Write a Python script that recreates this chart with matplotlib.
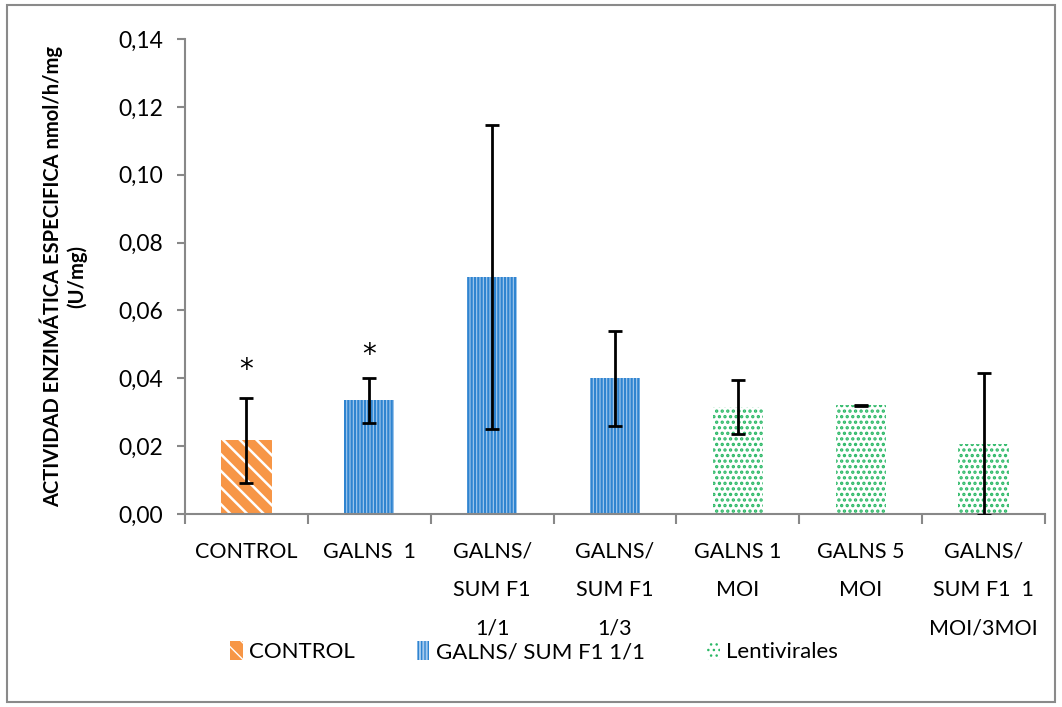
import matplotlib
matplotlib.use("Agg")
import matplotlib.pyplot as plt
from matplotlib.patches import Rectangle, Patch
import numpy as np

plt.rcParams['font.family'] = ['Lato', 'DejaVu Sans']

categories = ["CONTROL", "GALNS  1", "GALNS/\nSUM F1\n1/1", "GALNS/\nSUM F1\n1/3",
              "GALNS 1\nMOI", "GALNS 5\nMOI", "GALNS/\nSUM F1  1\nMOI/3MOI"]
values = [0.0217, 0.0335, 0.0699, 0.0400, 0.0316, 0.0320, 0.0206]
errors = [0.0125, 0.0066, 0.0447, 0.0140, 0.0080, 0.0002, 0.0209]
groups = ["CONTROL", "GALNS", "GALNS", "GALNS", "LENTI", "LENTI", "LENTI"]
star_idx = [0, 1]
star_y = [0.0425, 0.0470]
yticks = [0.00, 0.02, 0.04, 0.06, 0.08, 0.10, 0.12, 0.14]
legend_labels = ["CONTROL", "GALNS/ SUM F1 1/1", "Lentivirales"]

styles = {
    "CONTROL": dict(facecolor="#F79646", edgecolor="white", hatch="\\\\", hlw=1.8),
    "GALNS": dict(facecolor="#A7CBEE", edgecolor="#2F84D0", hatch="|||||", hlw=1.6),
    "LENTI": dict(facecolor="white", edgecolor="#2BB866", hatch="...", hlw=1.6),
}

fig = plt.figure(figsize=(10.62, 7.07), dpi=100)
ax = fig.add_axes([185/1062, 1-514/707, (1045-185)/1062, (514-39)/707])

x = np.arange(len(categories))
for i, (v, g) in enumerate(zip(values, groups)):
    s = styles[g]
    with plt.rc_context({'hatch.linewidth': s['hlw']}):
        ax.bar(x[i], v, width=0.41, facecolor=s['facecolor'], edgecolor=s['edgecolor'],
               hatch=s['hatch'], linewidth=0, zorder=2)
ax.errorbar(x, values, yerr=errors, fmt='none', ecolor='black', elinewidth=2,
            capsize=5, capthick=2, zorder=3)

for i, yv in zip(star_idx, star_y):
    ax.text(x[i], yv, "*", ha='center', va='center', fontsize=20, color='black',
            family='DejaVu Sans')

ax.set_xlim(-0.5, len(categories) - 0.5)
ax.set_ylim(0, 0.14)
ax.set_yticks(yticks)
ax.set_yticklabels([f"{t:.2f}".replace(".", ",") for t in yticks], fontsize=16.5)
ax.set_xticks(x)
ax.set_xticklabels(categories, fontsize=15.5, linespacing=2.15, va='top')
ax.set_xticks(np.arange(-0.5, len(categories)), minor=True)
ax.tick_params(axis='x', which='major', length=0, pad=20)
ax.tick_params(axis='x', which='minor', length=7, color='#888888', width=1.5)
ax.tick_params(axis='y', length=6, color='#888888', width=1.5, pad=10)

for side in ['top', 'right']:
    ax.spines[side].set_visible(False)
for side in ['left', 'bottom']:
    ax.spines[side].set_color('#888888')
    ax.spines[side].set_linewidth(1.5)

ax.set_ylabel("ACTIVIDAD ENZIMÁTICA ESPECIFICA nmol/h/mg\n(U/mg)", fontsize=14.5,
              fontweight='bold', labelpad=22, linespacing=1.25)

handles = []
for key, lab in zip(["CONTROL", "GALNS", "LENTI"], legend_labels):
    s = styles[key]
    with plt.rc_context({'hatch.linewidth': s['hlw']}):
        handles.append(Patch(facecolor=s['facecolor'], edgecolor=s['edgecolor'],
                             hatch=s['hatch'], linewidth=0, label=lab))
leg = fig.legend(handles=handles, loc='center', bbox_to_anchor=(0.503, 0.078), ncol=3,
                 frameon=False, fontsize=16, handlelength=0.55, handleheight=0.9,
                 handletextpad=0.3, columnspacing=2.8)

fig.patches.append(Rectangle((7/1062, 5/707), 1048/1062, 697/707, transform=fig.transFigure,
                             fill=False, edgecolor='#8A8A8A', linewidth=1.5))

fig.savefig("out.png", dpi=100)
